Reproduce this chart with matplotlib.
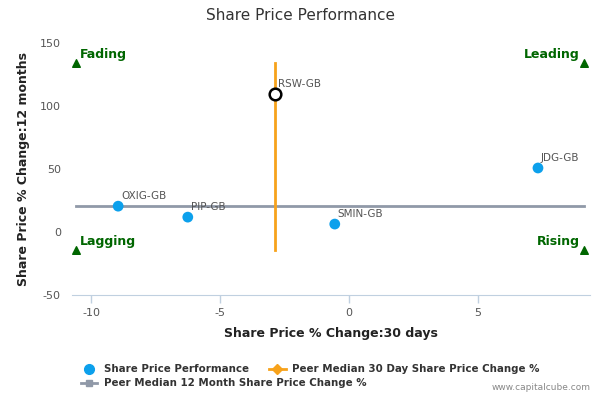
import matplotlib.pyplot as plt
from matplotlib.lines import Line2D

plt.rcParams["axes.unicode_minus"] = False

# company points: 30-day change (x) vs 12-month change (y)
tickers = ["OXIG-GB", "PIP-GB", "RSW-GB", "SMIN-GB", "JDG-GB"]
chg_30d = [-8.95, -6.25, -2.87, -0.55, 7.33]
chg_12m = [20.5, 11.8, 109.5, 6.3, 50.8]
highlight = "RSW-GB"

# peer medians
median_30d = -2.87
median_12m = 20.3

# quadrant markers
quad_x_left, quad_x_right = -10.58, 9.1
quad_y_top, quad_y_bottom = 134, -14.5
quad_names = ["Fading", "Leading", "Lagging", "Rising"]

x_ticks = [-10, -5, 0, 5]
y_ticks = [-50, 0, 50, 100, 150]

blue = "#0ca0ec"
orange = "#f7a21b"
gray = "#9099a8"
green = "#006600"
axis_col = "#c0d0e0"

fig = plt.figure(figsize=(6, 4), dpi=100)
ax = fig.add_axes([0.12, 0.2625, 0.863, 0.63])

# median lines
ax.plot([quad_x_left, quad_x_right], [median_12m, median_12m], color=gray, lw=2, zorder=1)
ax.plot([median_30d, median_30d], [quad_y_bottom, quad_y_top], color=orange, lw=2, zorder=1)

for t, x, y in zip(tickers, chg_30d, chg_12m):
    if t == highlight:
        ax.scatter(x, y, s=70, facecolor="white", edgecolor="black", linewidth=1.8, zorder=3)
    else:
        ax.scatter(x, y, s=60, color=blue, edgecolor="none", zorder=3)
    ax.annotate(t, (x, y), xytext=(2, 5), textcoords="offset points",
                fontsize=7.5, color="#555555", zorder=4)

# quadrant triangles and labels
tri_pos = [(quad_x_left, quad_y_top), (quad_x_right, quad_y_top),
           (quad_x_left, quad_y_bottom), (quad_x_right, quad_y_bottom)]
for name, (x, y) in zip(quad_names, tri_pos):
    ax.scatter(x, y, marker="^", s=30, color=green, zorder=3)
    if x < 0:
        ax.annotate(name, (x, y), xytext=(3, 4), textcoords="offset points",
                    fontsize=9, fontweight="bold", color=green)
    else:
        ax.annotate(name, (x, y), xytext=(-3, 4), textcoords="offset points",
                    fontsize=9, fontweight="bold", color=green, ha="right")

ax.set_xlim(-10.74, 9.34)
ax.set_ylim(-50, 150)
ax.set_xticks(x_ticks)
ax.set_yticks(y_ticks)
ax.tick_params(axis="x", colors=axis_col, labelcolor="#555555", labelsize=8, length=6, width=1)
ax.tick_params(axis="y", length=0, labelcolor="#555555", labelsize=8, pad=8)
for s in ["top", "right", "left"]:
    ax.spines[s].set_visible(False)
ax.spines["bottom"].set_color(axis_col)

ax.set_xlabel("Share Price % Change:30 days", fontsize=9, fontweight="bold", color="#222222", labelpad=6)
ax.set_ylabel("Share Price % Change:12 months", fontsize=9, fontweight="bold", color="#222222", labelpad=7)

fig.text(0.5, 0.96, "Share Price Performance", ha="center", va="center", fontsize=11, color="#333333")

# legend: two rows, built as two legends so the columns don't stretch
h_perf = Line2D([], [], marker="o", color=blue, linestyle="none", markersize=7)
h_30d = Line2D([], [], marker="D", color=orange, lw=2, markersize=5)
h_12m = Line2D([], [], marker="s", color=gray, lw=2, markersize=5)
rows = [
    ([h_perf, h_30d], ["Share Price Performance", "Peer Median 30 Day Share Price Change %"], 0.089),
    ([h_12m], ["Peer Median 12 Month Share Price Change %"], 0.054),
]
for hs, ls, ypos in rows:
    leg = fig.legend(hs, ls, ncol=len(hs), loc="upper left", bbox_to_anchor=(0.135, ypos),
                     frameon=False, fontsize=7.4, handlelength=1.6, columnspacing=2.0,
                     handletextpad=0.6, borderaxespad=0, borderpad=0)
    for txt in leg.get_texts():
        txt.set_fontweight("bold")
        txt.set_color("#333333")

fig.text(0.985, 0.02, "www.capitalcube.com", ha="right", va="bottom", fontsize=6.5, color="#888888")

fig.savefig("out.png", dpi=100)
